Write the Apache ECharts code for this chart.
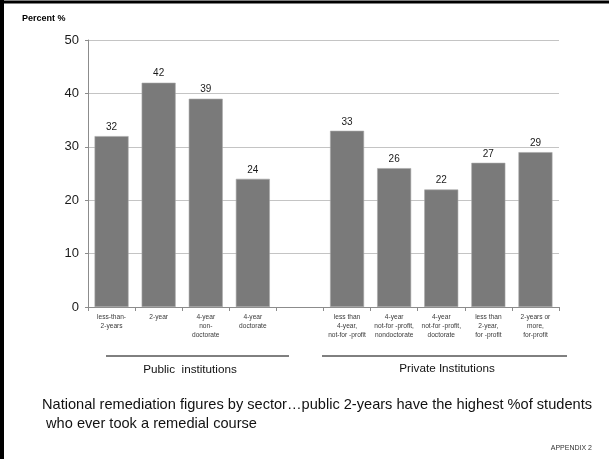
<!DOCTYPE html>
<html>
<head>
<meta charset="utf-8">
<script src="https://cdn.jsdelivr.net/npm/echarts@6/dist/echarts.min.js"></script>
<style>
  html, body { margin: 0; padding: 0; background: #fff; }
  #chart { width: 609px; height: 459px; }
</style>
</head>
<body>
<div id="chart"></div>
<script>
// Sectors: public institutions, an empty spacer slot, then private institutions
const categories = [
  'less-than-\n2-years',
  '2-year',
  '4-year\nnon-\ndoctorate',
  '4-year\ndoctorate',
  '',
  'less than\n4-year,\nnot-for -profit',
  '4-year\nnot-for -profit,\nnondoctorate',
  '4-year\nnot-for -profit,\ndoctorate',
  'less than\n2-year,\nfor -profit',
  '2-years or\nmore,\nfor-profit'
];
// Percent of students who ever took a remedial course
const percentValues = [32, 42, 39, 24, null, 33, 26, 22, 27, 29];
const yTicks = [0, 10, 20, 30, 40, 50];

const chart = echarts.init(document.getElementById('chart'), null, { renderer: 'canvas' });

const option = {
  backgroundColor: '#ffffff',
  animation: false,
  grid: { left: 88, right: 50, top: 40, bottom: 152 },
  xAxis: {
    type: 'category',
    data: categories,
    boundaryGap: true,
    axisLine: { lineStyle: { color: '#8c8c8c', width: 1 } },
    axisTick: { show: true, length: 4, lineStyle: { color: '#8c8c8c' } },
    axisLabel: {
      interval: 0,
      margin: 6,
      fontFamily: 'Liberation Sans Narrow, Liberation Sans, Arial, sans-serif',
      fontSize: 6.6,
      lineHeight: 9,
      color: '#3a3a3a'
    }
  },
  yAxis: {
    type: 'value',
    min: yTicks[0],
    max: yTicks[yTicks.length - 1],
    interval: 10,
    axisLine: { show: true, lineStyle: { color: '#8c8c8c', width: 1 } },
    axisTick: { show: true, length: 3, lineStyle: { color: '#8c8c8c' } },
    axisLabel: {
      margin: 9,
      fontFamily: 'Liberation Sans, Arial, sans-serif',
      fontSize: 13,
      color: '#1a1a1a'
    },
    splitLine: { show: true, lineStyle: { color: '#c4c4c4', width: 1 } }
  },
  series: [{
    type: 'bar',
    data: percentValues,
    barWidth: 34,
    itemStyle: { color: '#7a7a7a', borderColor: '#a8a8a8', borderWidth: 0.6 },
    label: {
      show: true,
      position: 'top',
      distance: 4,
      fontFamily: 'Liberation Sans, Arial, sans-serif',
      fontSize: 10,
      color: '#1a1a1a'
    }
  }],
  graphic: [
    // slide frame
    { type: 'line', shape: { x1: 2, y1: 0, x2: 2, y2: 459 }, style: { stroke: '#000', lineWidth: 4 } },
    { type: 'line', shape: { x1: 0, y1: 2, x2: 609, y2: 2 }, style: { stroke: '#000', lineWidth: 3 } },
    // axis title
    { type: 'text', left: 22, top: 14, style: { text: 'Percent %', font: 'bold 9px Liberation Sans, Arial, sans-serif', fill: '#000' } },
    // group brackets
    { type: 'line', shape: { x1: 106, y1: 356, x2: 289, y2: 356 }, style: { stroke: '#000', lineWidth: 1 } },
    { type: 'text', x: 190, y: 370, style: { text: 'Public  institutions', font: '11.7px Liberation Sans, Arial, sans-serif', fill: '#111', textAlign: 'center', textVerticalAlign: 'middle' } },
    { type: 'line', shape: { x1: 322, y1: 356, x2: 567, y2: 356 }, style: { stroke: '#000', lineWidth: 1 } },
    { type: 'text', x: 447, y: 369, style: { text: 'Private Institutions', font: '11.7px Liberation Sans, Arial, sans-serif', fill: '#111', textAlign: 'center', textVerticalAlign: 'middle' } },
    // caption
    { type: 'text', left: 42, top: 395, style: { text: 'National remediation figures by sector\u2026public 2-years have the highest %of students\n who ever took a remedial course', font: '14.6px Liberation Sans, Arial, sans-serif', lineHeight: 19, fill: '#111' } },
    { type: 'text', right: 17, top: 445, style: { text: 'APPENDIX 2', font: '7px Liberation Sans, Arial, sans-serif', fill: '#333' } }
  ]
};

chart.setOption(option);
</script>
</body>
</html>
